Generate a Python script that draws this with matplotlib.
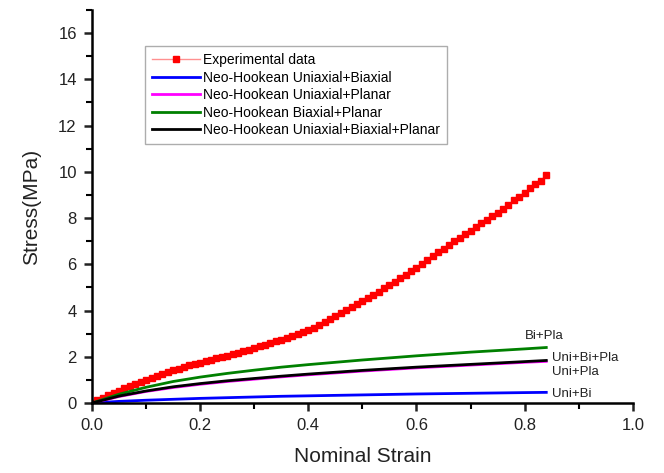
import matplotlib
matplotlib.use("Agg")
import matplotlib.pyplot as plt
from matplotlib.ticker import MultipleLocator

plt.rcParams['font.family'] = ['Liberation Sans', 'DejaVu Sans']

exp_strain = [0.00, 0.01, 0.02, 0.03, 0.04, 0.05, 0.06, 0.07, 0.08, 0.09,
              0.10, 0.11, 0.12, 0.13, 0.14, 0.15, 0.16, 0.17, 0.18, 0.19,
              0.20, 0.21, 0.22, 0.23, 0.24, 0.25, 0.26, 0.27, 0.28, 0.29,
              0.30, 0.31, 0.32, 0.33, 0.34, 0.35, 0.36, 0.37, 0.38, 0.39,
              0.40, 0.41, 0.42, 0.43, 0.44, 0.45, 0.46, 0.47, 0.48, 0.49,
              0.50, 0.51, 0.52, 0.53, 0.54, 0.55, 0.56, 0.57, 0.58, 0.59,
              0.60, 0.61, 0.62, 0.63, 0.64, 0.65, 0.66, 0.67, 0.68, 0.69,
              0.70, 0.71, 0.72, 0.73, 0.74, 0.75, 0.76, 0.77, 0.78, 0.79,
              0.80, 0.81, 0.82, 0.83, 0.84]
exp_stress = [0.00, 0.12, 0.23, 0.34, 0.44, 0.54, 0.63, 0.72, 0.82, 0.91,
              1.00, 1.08, 1.17, 1.25, 1.34, 1.42, 1.49, 1.56, 1.63, 1.69,
              1.75, 1.81, 1.87, 1.93, 1.99, 2.05, 2.11, 2.17, 2.24, 2.31,
              2.38, 2.45, 2.52, 2.59, 2.66, 2.73, 2.81, 2.89, 2.97, 3.06,
              3.15, 3.26, 3.38, 3.50, 3.62, 3.75, 3.88, 4.01, 4.14, 4.27,
              4.40, 4.54, 4.68, 4.82, 4.96, 5.10, 5.25, 5.40, 5.55, 5.70,
              5.85, 6.02, 6.18, 6.34, 6.52, 6.68, 6.84, 6.99, 7.14, 7.29,
              7.45, 7.62, 7.78, 7.93, 8.08, 8.22, 8.40, 8.58, 8.76, 8.93,
              9.10, 9.28, 9.45, 9.62, 9.85]

# Neo-Hookean fits
fit_strain = [0.00, 0.05, 0.10, 0.15, 0.20, 0.25, 0.30, 0.35, 0.40, 0.45,
              0.50, 0.55, 0.60, 0.65, 0.70, 0.75, 0.80, 0.84]
uni_bi = [0.00, 0.07, 0.12, 0.16, 0.20, 0.23, 0.26, 0.29, 0.31, 0.33,
          0.35, 0.37, 0.39, 0.405, 0.42, 0.435, 0.45, 0.46]
uni_pla = [0.00, 0.28, 0.50, 0.67, 0.81, 0.93, 1.03, 1.13, 1.22, 1.30,
           1.38, 1.45, 1.52, 1.58, 1.64, 1.70, 1.76, 1.80]
bi_pla = [0.00, 0.38, 0.68, 0.93, 1.12, 1.28, 1.42, 1.55, 1.66, 1.76,
          1.86, 1.95, 2.04, 2.12, 2.20, 2.27, 2.34, 2.40]
uni_bi_pla = [0.00, 0.30, 0.52, 0.70, 0.84, 0.96, 1.06, 1.16, 1.25, 1.33,
              1.41, 1.48, 1.55, 1.61, 1.67, 1.73, 1.79, 1.84]

fig = plt.figure(figsize=(6.64, 4.73), dpi=100)
ax = fig.add_axes([0.1386, 0.148, 0.8144, 0.831])

ax.plot(exp_strain, exp_stress, color='#ff9090', lw=1, marker='s', ms=4.5,
        mfc='red', mec='red', label='Experimental data')
ax.plot(fit_strain, uni_bi, color='blue', lw=2, label='Neo-Hookean Uniaxial+Biaxial')
ax.plot(fit_strain, uni_pla, color='magenta', lw=2, label='Neo-Hookean Uniaxial+Planar')
ax.plot(fit_strain, bi_pla, color='green', lw=2, label='Neo-Hookean Biaxial+Planar')
ax.plot(fit_strain, uni_bi_pla, color='black', lw=2, label='Neo-Hookean Uniaxial+Biaxial+Planar')

ax.text(0.80, 2.75, 'Bi+Pla', fontsize=9.5, color='#222222')
ax.text(0.85, 1.8, 'Uni+Bi+Pla', fontsize=9.5, color='#222222')
ax.text(0.85, 1.2, 'Uni+Pla', fontsize=9.5, color='#222222')
ax.text(0.85, 0.25, 'Uni+Bi', fontsize=9.5, color='#222222')

ax.set_xlim(0, 1.0)
ax.set_ylim(0, 17)
ax.xaxis.set_major_locator(MultipleLocator(0.2))
ax.xaxis.set_minor_locator(MultipleLocator(0.1))
ax.yaxis.set_major_locator(MultipleLocator(2))
ax.yaxis.set_minor_locator(MultipleLocator(1))
ax.spines['top'].set_visible(False)
ax.spines['right'].set_visible(False)
ax.spines['left'].set_linewidth(1.8)
ax.spines['bottom'].set_linewidth(1.8)
ax.tick_params(which='major', direction='out', length=6, width=1.8, labelsize=12,
               colors='#222222', pad=5)
ax.tick_params(which='minor', direction='out', length=4, width=1.5)
ax.set_xlabel('Nominal Strain', fontsize=15, color='#222222', labelpad=10)
ax.set_ylabel('Stress(MPa)', fontsize=15, color='#222222', labelpad=12)

leg = ax.legend(loc='upper left', bbox_to_anchor=(0.085, 0.925), fontsize=10,
                handlelength=3.5, handletextpad=0.15, labelspacing=0.25,
                fancybox=False, borderpad=0.5)
leg.get_frame().set_edgecolor('#999999')
leg.get_frame().set_linewidth(1)

fig.savefig('out.png', dpi=100)
